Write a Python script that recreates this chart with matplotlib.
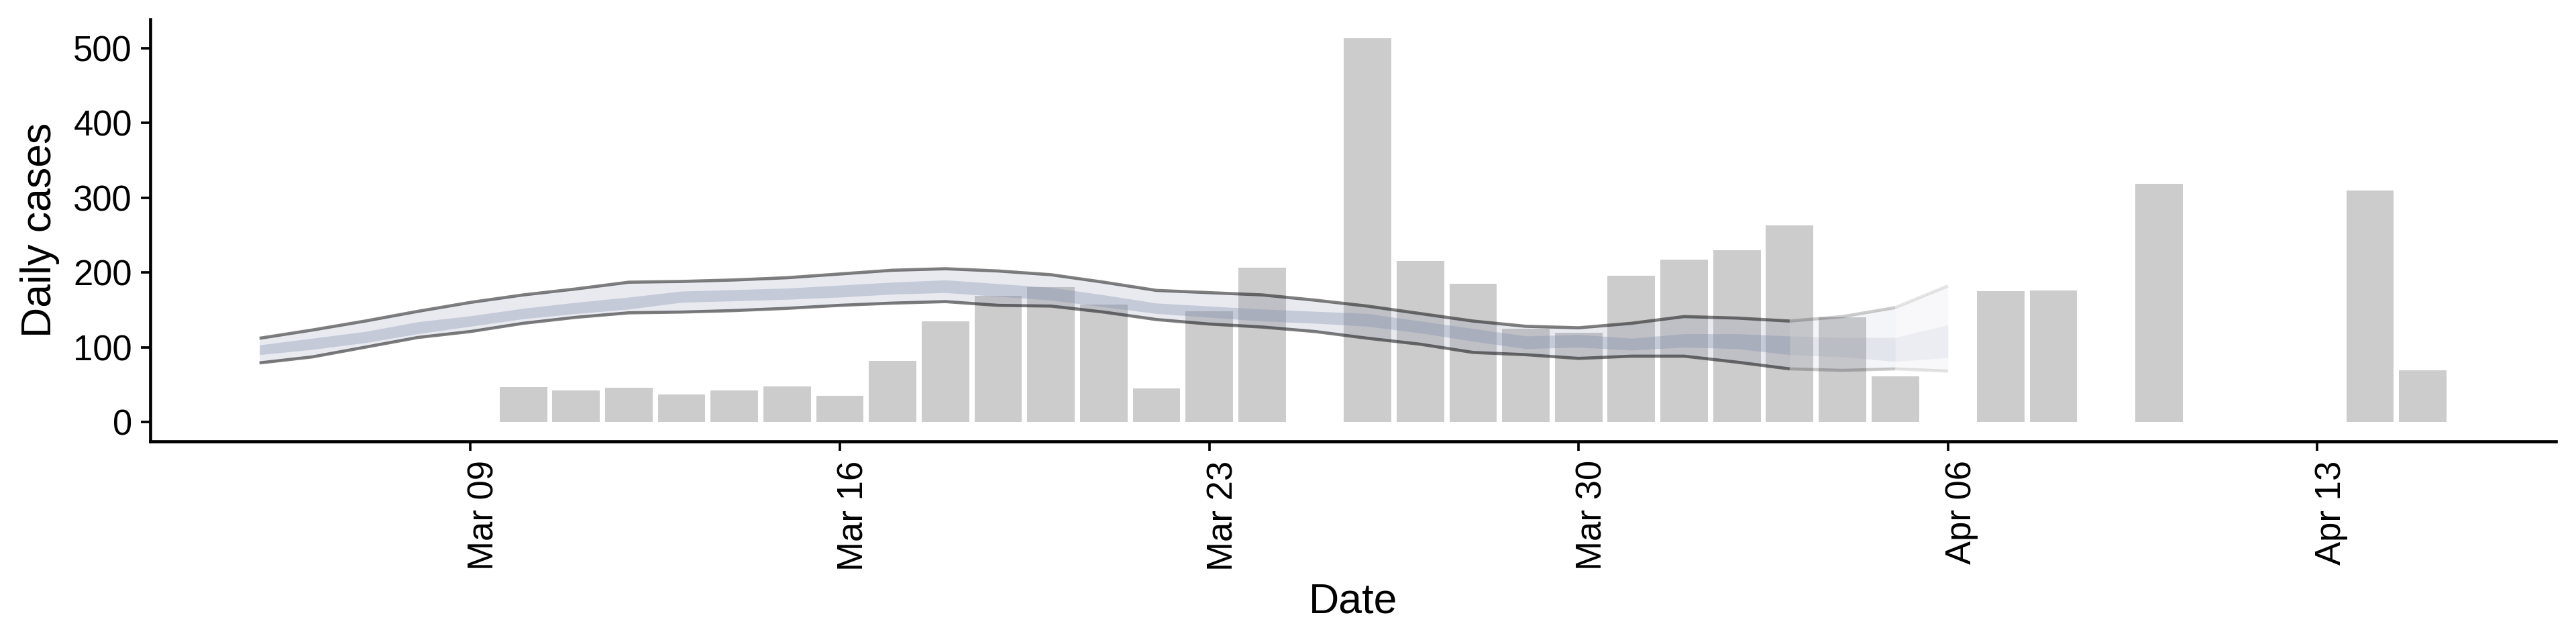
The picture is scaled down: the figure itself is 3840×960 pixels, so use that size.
import numpy as np
import pandas as pd
import matplotlib
matplotlib.use("Agg")
import matplotlib.pyplot as plt
import matplotlib.dates as mdates
import matplotlib.transforms as mtransforms

plt.rcParams['font.family'] = ['Liberation Sans', 'DejaVu Sans']

# Reported daily cases (days without a bar are left out)
case_dates = pd.to_datetime([
    "2020-03-10", "2020-03-11", "2020-03-12", "2020-03-13", "2020-03-14",
    "2020-03-15", "2020-03-16", "2020-03-17", "2020-03-18", "2020-03-19",
    "2020-03-20", "2020-03-21", "2020-03-22", "2020-03-23", "2020-03-24",
    "2020-03-26", "2020-03-27", "2020-03-28", "2020-03-29", "2020-03-30",
    "2020-03-31", "2020-04-01", "2020-04-02", "2020-04-03", "2020-04-04",
    "2020-04-05", "2020-04-07", "2020-04-08", "2020-04-10", "2020-04-14",
    "2020-04-15"])
cases = [47, 42, 46, 37, 42, 48, 35, 82, 135, 169,
         180, 157, 45, 148, 206, 513, 215, 185, 125, 119,
         196, 217, 230, 263, 140, 61, 175, 176, 319, 310, 69]

# Model estimate, Mar 05 .. Apr 06
est_dates = pd.date_range("2020-03-05", "2020-04-06", freq="D")
upper_90 = [112, 123, 135, 148, 160, 170, 178, 187, 188, 190,
            193, 198, 203, 205, 202, 197, 187, 176, 173, 170,
            163, 155, 145, 135, 128, 126, 132, 141, 139, 135,
            141, 153, 182]
lower_90 = [79, 87, 100, 113, 121, 132, 140, 146, 147, 149,
            152, 156, 159, 161, 156, 155, 147, 137, 131, 127,
            121, 112, 104, 93, 90, 85, 88, 88, 80, 71,
            69, 71, 68]
upper_50 = [103, 112, 121, 134, 142, 152, 160, 167, 175, 177,
            179, 183, 187, 190, 185, 180, 170, 159, 155, 151,
            148, 145, 135, 125, 115, 117, 112, 118, 118, 115,
            113, 113, 130]
lower_50 = [90, 97, 106, 118, 128, 138, 145, 151, 160, 162,
            164, 167, 171, 173, 168, 163, 154, 145, 140, 135,
            132, 128, 119, 108, 98, 100, 96, 100, 98, 90,
            87, 81, 86]

# estimate / partial data / forecast pieces of the estimate
segments = [("2020-03-05", "2020-04-03", 1.0, 0.5),
            ("2020-04-03", "2020-04-05", 0.45, 0.2),
            ("2020-04-05", "2020-04-06", 0.3, 0.1)]

ribbon_col = (128 / 255, 139 / 255, 172 / 255)

fig, ax = plt.subplots(figsize=(16, 4), dpi=240)
fig.subplots_adjust(left=0.0583, right=0.9922, bottom=0.315, top=0.970)

ax.bar(case_dates, cases, width=0.9, color="#cccccc", linewidth=0, zorder=1)

est = pd.DataFrame({"u90": upper_90, "l90": lower_90,
                    "u50": upper_50, "l50": lower_50}, index=est_dates)
for start, end, rib_scale, line_alpha in segments:
    seg = est.loc[start:end]
    ax.fill_between(seg.index, seg["l90"], seg["u90"], color=ribbon_col,
                    alpha=0.18 * rib_scale, linewidth=0, zorder=2)
    ax.fill_between(seg.index, seg["l50"], seg["u50"], color=ribbon_col,
                    alpha=0.33 * rib_scale, linewidth=0, zorder=3)
    ax.plot(seg.index, seg["u90"], color="black", alpha=line_alpha,
            linewidth=1.4, solid_capstyle="butt", zorder=4)
    ax.plot(seg.index, seg["l90"], color="black", alpha=line_alpha,
            linewidth=1.4, solid_capstyle="butt", zorder=4)

# ggplot-like 5% expansion
x0 = mdates.date2num(est_dates[0])
x1 = mdates.date2num(case_dates[-1]) + 0.45
xr = x1 - x0
ax.set_xlim(x0 - 0.05 * xr, x1 + 0.05 * xr)
ymax = max(max(cases), max(upper_90))
ax.set_ylim(-0.05 * ymax, ymax * 1.05)

ax.set_xticks(pd.to_datetime(["2020-03-09", "2020-03-16", "2020-03-23",
                              "2020-03-30", "2020-04-06", "2020-04-13"]))
ax.xaxis.set_major_formatter(mdates.DateFormatter("%b %d"))
ax.set_yticks([0, 100, 200, 300, 400, 500])

for s in ["top", "right"]:
    ax.spines[s].set_visible(False)
for s in ["left", "bottom"]:
    ax.spines[s].set_linewidth(1.4)
ax.tick_params(axis="both", which="major", length=4.1, width=1.1,
               labelsize=15.8, colors="black", pad=4)
ax.tick_params(axis="x", labelrotation=90, pad=4.5)

# rotated labels sit just right of their tick, as in ggplot
shift = mtransforms.ScaledTranslation(0.085, 0, fig.dpi_scale_trans)
for lab in ax.get_xticklabels():
    lab.set_transform(lab.get_transform() + shift)

ax.set_xlabel("Date", fontsize=18.8, labelpad=5)
ax.set_ylabel("Daily cases", fontsize=18.8, labelpad=6)

fig.savefig("out.png", dpi=240)
